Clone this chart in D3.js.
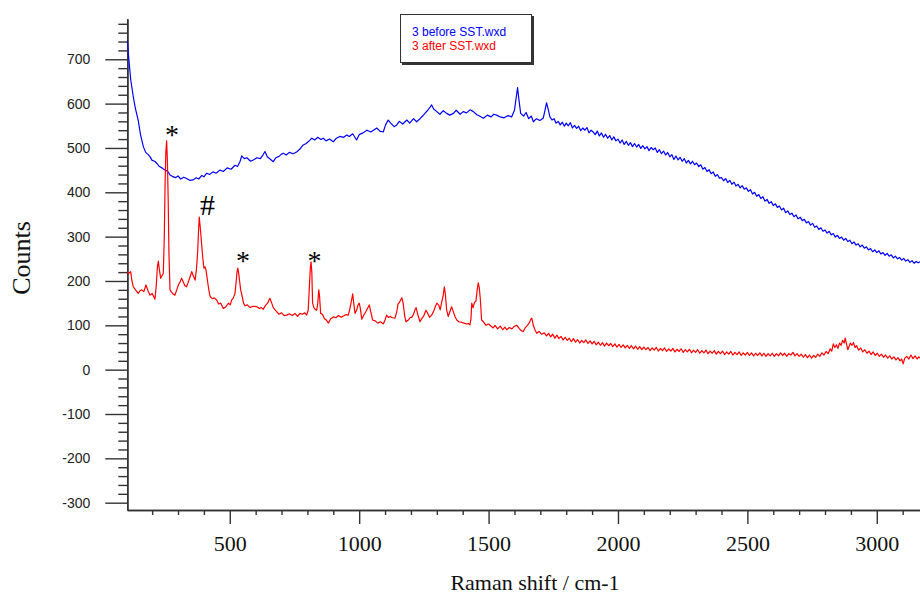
<!DOCTYPE html>
<html>
<head>
<meta charset="utf-8">
<script src="https://cdn.jsdelivr.net/npm/d3@7"></script>
<style>
body { margin: 0; background: #fff; }
svg { display: block; }
</style>
</head>
<body>
<div id="chart"></div>
<script>

// spectrum before treatment (Raman shift cm-1, counts)
var beforeData = [
[104,743],[110,700],[117,655],[127,616],[135,590],[146,563],[155,530],[166,503],[175,490],[185,485],[192,480],[200,472],[210,470],[218,465],[228,458],[238,455],[250,450],[258,448],[264,444],[269,439],[278,436],[290,433],[300,437],[310,430],[322,434],[333,431],[345,427],[359,428],[370,433],[380,430],[392,438],[400,435],[411,443],[422,440],[435,446],[447,443],[462,450],[475,447],[490,455],[505,452],[520,461],[530,458],[540,470],[546,482],[556,476],[566,478],[580,470],[591,473],[605,478],[618,476],[628,484],[636,492],[645,480],[658,474],[668,469],[678,478],[690,481],[700,486],[707,488],[718,484],[730,490],[745,487],[758,491],[770,497],[782,506],[795,510],[805,515],[817,522],[828,518],[840,524],[852,519],[861,522],[872,516],[885,520],[900,514],[912,522],[925,526],[940,524],[952,529],[962,526],[975,532],[990,518],[1000,530],[1015,534],[1030,540],[1045,536],[1055,540],[1068,545],[1080,538],[1093,536],[1102,552],[1112,563],[1122,556],[1135,548],[1145,552],[1155,560],[1168,554],[1184,563],[1195,556],[1210,566],[1222,559],[1235,566],[1245,572],[1254,578],[1265,585],[1274,592],[1280,597],[1288,588],[1300,582],[1312,576],[1325,584],[1338,578],[1350,574],[1364,578],[1375,585],[1390,576],[1402,582],[1415,579],[1428,586],[1441,582],[1455,575],[1465,572],[1480,567],[1495,574],[1510,570],[1520,576],[1531,574],[1545,570],[1560,568],[1575,573],[1589,570],[1600,585],[1607,615],[1612,636],[1617,610],[1624,578],[1635,572],[1645,580],[1655,566],[1665,572],[1673,559],[1685,566],[1698,562],[1711,567],[1718,585],[1724,602],[1730,588],
[1737,570],[1745,563],[1753,566],[1761,556],[1769,560],[1777,552],[1785,558],[1793,549],[1800,556],
[1808,550],[1816,557],[1824,545],[1832,551],[1840,544],[1848,549],[1856,539],[1864,545],[1872,540],[1880,546],[1888,534],[1896,540],
[1904,536],[1912,530],[1920,538],[1928,527],[1936,534],[1944,524],[1952,531],[1960,522],[1968,528],[1976,518],[1984,525],[1992,516],
[2000,520],[2008,511],[2016,518],[2024,508],[2032,515],[2040,506],[2048,512],[2056,503],[2064,510],[2072,502],[2080,508],[2088,499],[2096,505],
[2104,498],[2112,503],[2120,494],[2128,501],[2136,496],[2144,500],[2152,490],[2160,496],[2168,487],[2176,493],[2184,484],[2192,490],
[2200,480],[2208,485],[2216,474],[2224,482],[2232,473],[2240,479],[2248,470],[2256,476],[2264,466],[2272,472],[2280,464],[2288,470],[2296,462],
[2304,466],[2312,458],[2320,462],[2328,452],[2336,456],[2344,447],[2352,451],[2360,442],[2368,446],[2376,436],[2384,440],[2392,432],
[2400,433],[2408,426],[2416,431],[2424,422],[2432,427],[2440,418],[2448,423],[2456,414],[2464,418],[2472,410],[2480,415],[2488,407],[2496,410],
[2504,402],[2512,406],[2520,396],[2528,400],[2536,391],[2544,395],[2552,386],[2560,390],[2568,380],[2576,384],[2584,375],[2592,379],
[2600,370],[2608,374],[2616,366],[2624,369],[2632,360],[2640,364],[2648,354],[2656,358],[2664,350],[2672,353],[2680,345],[2688,349],[2696,340],
[2704,344],[2712,336],[2720,339],[2728,331],[2736,334],[2744,326],[2752,330],[2760,321],[2768,324],[2776,316],[2784,320],[2792,312],
[2800,315],[2808,308],[2816,312],[2824,304],[2832,307],[2840,299],[2848,303],[2856,296],[2864,299],[2872,292],[2880,296],[2888,289],[2896,292],
[2904,284],[2912,288],[2920,281],[2928,284],[2936,277],[2944,281],[2952,274],[2960,277],[2968,270],[2976,273],[2984,266],[2992,270],
[3000,264],[3008,268],[3016,261],[3024,264],[3032,258],[3040,262],[3048,256],[3056,259],[3064,252],[3072,256],[3080,250],[3088,253],[3096,247],[3104,251],[3112,245],[3120,248],[3128,242],[3136,246],[3144,240],[3152,244],[3160,241],[3167,243]
];

// spectrum after treatment
var afterData = [
[104,220],[108,217],[117,221],[122,200],[127,187],[136,180],[146,172],[153,178],[160,180],[168,176],[176,191],[184,178],[192,168],[200,172],[211,159],[216,190],[220,230],[224,245],[228,225],[233,206],[238,212],[243,217],[247,300],[250,420],[253,490],[256,516],[259,470],[262,383],[265,260],[269,180],[275,175],[282,170],[288,168],[295,180],[302,192],[308,198],[314,206],[320,198],[326,190],[333,187],[340,198],[347,210],[353,221],[360,210],[366,202],[371,225],[376,266],[379,310],[382,344],[386,320],[391,285],[396,250],[400,229],[404,232],[408,225],[414,200],[419,180],[424,165],[432,160],[440,162],[449,157],[457,148],[465,150],[475,138],[485,142],[495,150],[502,146],[507,157],[514,162],[520,172],[525,200],[528,220],[531,229],[535,215],[539,195],[542,180],[548,165],[553,150],[559,144],[568,146],[578,140],[590,143],[604,142],[615,138],[622,140],[629,136],[638,145],[646,150],[655,161],[662,150],[668,140],[675,135],[681,131],[690,125],[700,128],[710,122],[720,123],[730,126],[742,122],[752,127],[762,120],[771,127],[780,125],[790,128],[797,123],[803,134],[807,180],[811,228],[814,243],[817,220],[820,150],[825,140],[830,136],[836,134],[840,150],[844,180],[847,165],[851,127],[858,125],[866,115],[873,112],[881,105],[890,115],[900,119],[910,117],[920,122],[930,118],[939,121],[948,124],[958,123],[965,140],[971,158],[975,171],[979,150],[984,127],[990,134],[995,145],[1000,150],[1004,140],[1010,114],[1017,122],[1025,130],[1032,138],[1039,146],[1045,130],[1052,112],[1062,110],[1072,105],[1082,108],[1093,103],[1100,112],[1106,123],[1113,118],[1120,120],[1128,117],[1138,116],[1145,130],[1150,148],[1155,151],[1160,157],[1165,162],[1170,150],[1176,120],[1181,108],[1190,112],[1198,118],[1203,118],[1210,125],[1215,134],[1220,140],[1226,125],[1235,108],[1242,115],[1250,122],[1258,134],[1264,128],[1272,118],[1280,123],[1288,132],[1294,142],[1300,150],[1308,145],[1313,135],[1319,153],[1324,165],[1329,187],[1333,170],[1338,135],[1344,120],[1350,130],[1357,142],[1363,132],[1370,120],[1377,112],[1385,108],[1395,107],[1405,105],[1415,103],[1422,104],[1428,101],[1432,115],[1435,150],[1440,140],[1446,152],[1451,154],[1456,180],[1460,196],[1464,185],[1468,160],[1473,112],[1480,108],[1490,100],[1500,103],[1510,98],[1518,94],[1525,100],[1535,92],[1545,98],[1555,90],[1563,96],[1570,90],[1580,95],[1590,92],[1600,98],[1609,100],[1618,93],[1626,88],[1634,86],[1642,95],[1650,100],[1658,106],[1663,114],[1667,116],[1672,102],[1679,90],[1686,82],[1695,86],[1705,80],[1715,83],
[1724,76],[1732,82],[1740,74],[1748,80],[1756,71],[1764,78],[1772,70],[1780,75],[1788,67],[1796,73],
[1804,66],[1812,71],[1820,63],[1828,70],[1836,62],[1844,68],[1852,60],[1860,66],[1868,61],[1876,67],[1884,59],[1892,65],
[1900,58],[1908,64],[1916,56],[1924,62],[1932,55],[1940,61],[1948,53],[1956,60],[1964,54],[1972,59],[1980,52],[1988,58],[1996,51],
[2004,57],[2012,50],[2020,56],[2028,49],[2036,55],[2044,48],[2052,54],[2060,47],[2068,53],[2076,46],[2084,52],[2092,45],
[2100,51],[2108,45],[2116,50],[2124,43],[2132,49],[2140,44],[2148,50],[2156,42],[2164,48],[2172,43],[2180,49],[2188,41],[2196,47],
[2204,42],[2212,48],[2220,40],[2228,46],[2236,41],[2244,47],[2252,39],[2260,45],[2268,40],[2276,46],[2284,38],[2292,44],
[2300,39],[2308,45],[2316,37],[2324,43],[2332,38],[2340,44],[2348,36],[2356,42],[2364,37],[2372,43],[2380,35],[2388,41],[2396,36],
[2404,42],[2412,34],[2420,40],[2428,35],[2436,41],[2444,33],[2452,39],[2460,34],[2468,40],[2476,32],[2484,38],[2492,33],
[2500,39],[2508,32],[2516,38],[2524,31],[2532,37],[2540,32],[2548,38],[2556,31],[2564,37],[2572,30],[2580,36],[2588,31],[2596,37],
[2604,30],[2612,36],[2620,31],[2628,38],[2636,32],[2644,37],[2652,30],[2660,36],[2668,33],[2676,39],[2684,31],[2692,36],
[2700,30],[2708,35],[2716,28],[2724,34],[2732,27],[2740,33],[2748,26],[2756,32],[2764,28],[2772,35],[2780,30],[2788,38],[2796,33],
[2804,41],[2812,36],[2820,47],[2826,42],[2832,58],[2838,50],[2844,56],[2850,48],[2856,60],[2862,55],[2868,66],[2874,60],[2878,71],[2883,58],[2888,45],[2893,52],[2898,60],[2904,55],[2910,61],[2916,50],
[2922,54],[2930,44],[2938,49],[2946,40],[2954,45],[2962,37],[2970,42],[2978,34],[2986,40],[2994,32],
[3002,37],[3010,30],[3018,35],[3026,28],[3034,33],[3042,26],[3050,31],[3058,24],[3066,29],[3074,22],[3082,27],[3090,20],[3096,24],[3102,13],[3108,26],[3116,30],[3124,24],[3132,33],[3140,25],[3148,31],[3156,24],[3162,29],[3167,26]
];

var seriesNames = ["3 before SST.wxd", "3 after SST.wxd"];
var seriesColors = ["#0000ff", "#ff0000"];

var xMajorTicks = [500, 1000, 1500, 2000, 2500, 3000];
var xMinorTicks = [200, 300, 400, 600, 700, 800, 900, 1100, 1200, 1300, 1400, 1600, 1700, 1800, 1900, 2100, 2200, 2300, 2400, 2600, 2700, 2800, 2900, 3100];
var yMajorTicks = [-300, -200, -100, 0, 100, 200, 300, 400, 500, 600, 700];
var yMinorTicks = d3.range(-280, 790, 20).filter(function(v){ return v % 100 != 0; });

// peak markers
var markText = ["*", "#", "*", "*"];
var markX = [277, 414, 551, 827];
var markY = [527, 348, 243, 243];

var width = 920;
var height = 594;

var svg = d3.select("#chart").append("svg")
    .attr("width", width)
    .attr("height", height);

var x = d3.scaleLinear().domain([104, 3167]).range([127.3, 920]);
var y = d3.scaleLinear().domain([-316.5, 791.5]).range([510, 18.7]);

svg.append("clipPath")
    .attr("id", "plotClip")
    .append("rect")
    .attr("x", 127.3)
    .attr("y", 18.7)
    .attr("width", 920 - 127.3)
    .attr("height", 510 - 18.7);

// left axis: minor ticks, then major ticks with labels
var yMinorAxis = d3.axisLeft(y).tickValues(yMinorTicks).tickSize(9).tickSizeOuter(0).tickFormat("");
var yMajorAxis = d3.axisLeft(y).tickValues(yMajorTicks).tickSize(22).tickSizeOuter(0).tickPadding(15).tickFormat(d3.format("d"));

var gyMinor = svg.append("g").attr("transform", "translate(127.3,0)").call(yMinorAxis);
var gyMajor = svg.append("g").attr("transform", "translate(127.3,0)").call(yMajorAxis);

gyMajor.selectAll("text")
    .attr("font-family", "Liberation Sans, Arial, sans-serif")
    .attr("font-size", 14)
    .attr("fill", "#222")
    .text(function(d){ return d < 0 ? "-" + Math.abs(d) : d; });

// bottom axis
var xMinorAxis = d3.axisBottom(x).tickValues(xMinorTicks).tickSize(5).tickSizeOuter(0).tickFormat("");
var xMajorAxis = d3.axisBottom(x).tickValues(xMajorTicks).tickSize(14).tickSizeOuter(0).tickFormat(d3.format("d"));

var gxMinor = svg.append("g").attr("transform", "translate(0,510)").call(xMinorAxis);
var gxMajor = svg.append("g").attr("transform", "translate(0,510)").call(xMajorAxis);

gxMajor.selectAll("text")
    .attr("font-family", "Liberation Serif, Times New Roman, serif")
    .attr("font-size", 22)
    .attr("fill", "#111")
    .attr("dy", null)
    .attr("y", 41);

[gyMinor, gyMajor, gxMinor, gxMajor].forEach(function(g){
    g.select(".domain").attr("stroke", "#333").attr("stroke-width", 1.5);
    g.selectAll(".tick line").attr("stroke", "#333").attr("stroke-width", 1.4);
});

// spectra
var line = d3.line()
    .x(function(d){ return x(d[0]); })
    .y(function(d){ return y(d[1]); });

var plot = svg.append("g").attr("clip-path", "url(#plotClip)");

[beforeData, afterData].forEach(function(data, i){
    plot.append("path")
        .attr("d", line(data))
        .attr("fill", "none")
        .attr("stroke", seriesColors[i])
        .attr("stroke-width", 1.2)
        .attr("stroke-linejoin", "round");
});

// peak markers
markText.forEach(function(t, i){
    svg.append("text")
        .attr("x", x(markX[i]))
        .attr("y", y(markY[i]) + (t == "*" ? 8 : 0))
        .attr("text-anchor", "middle")
        .attr("font-family", "Liberation Serif, Times New Roman, serif")
        .attr("font-size", t == "*" ? 28 : 30)
        .attr("fill", "#000")
        .text(t);
});

// legend
svg.append("rect")
    .attr("x", 402)
    .attr("y", 16)
    .attr("width", 132)
    .attr("height", 49)
    .attr("fill", "#333");
svg.append("rect")
    .attr("x", 400.5)
    .attr("y", 14.5)
    .attr("width", 131)
    .attr("height", 48)
    .attr("fill", "#fff")
    .attr("stroke", "#333")
    .attr("stroke-width", 1);

seriesNames.forEach(function(name, i){
    svg.append("text")
        .attr("x", 412)
        .attr("y", 36 + 14 * i)
        .attr("font-family", "Liberation Sans, Arial, sans-serif")
        .attr("font-size", 12)
        .attr("fill", seriesColors[i])
        .text(name);
});

// axis titles
svg.append("text")
    .attr("transform", "translate(30,258) rotate(-90)")
    .attr("text-anchor", "middle")
    .attr("font-family", "Liberation Serif, Times New Roman, serif")
    .attr("font-size", 26)
    .attr("fill", "#111")
    .text("Counts");

svg.append("text")
    .attr("x", 535)
    .attr("y", 590)
    .attr("text-anchor", "middle")
    .attr("font-family", "Liberation Serif, Times New Roman, serif")
    .attr("font-size", 22)
    .attr("fill", "#111")
    .text("Raman shift / cm-1");

</script>
</body>
</html>
